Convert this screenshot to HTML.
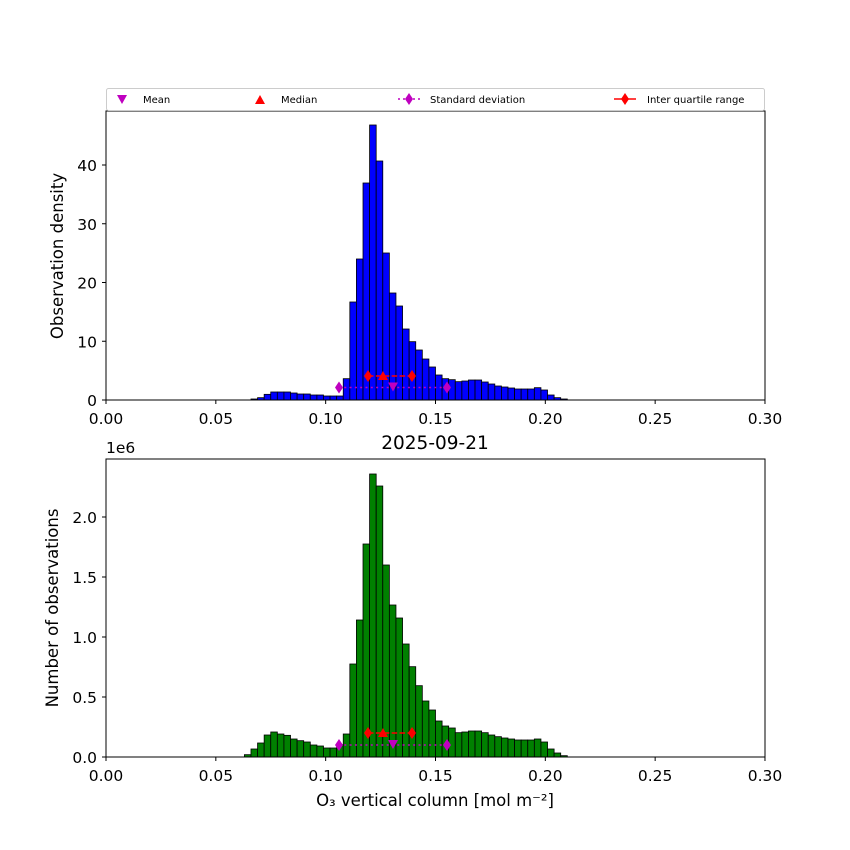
<!DOCTYPE html>
<html><head><meta charset="utf-8"><style>
html,body{margin:0;padding:0;background:#fff}
svg{display:block;font-family:"DejaVu Sans","Liberation Sans",sans-serif}
</style></head><body>
<svg id="s" width="850" height="850" viewBox="0 0 850 850" xmlns="http://www.w3.org/2000/svg">
<rect width="850" height="850" fill="#fff"/>
<g id="top"></g><g id="bot"></g>
<rect x="106" y="111" width="659" height="289" fill="none" stroke="#000" stroke-width="1"/>
<rect x="106" y="459" width="659" height="298" fill="none" stroke="#000" stroke-width="1"/>
<g id="ticks" font-size="15.5" fill="#000"></g>
<rect x="106.5" y="88.5" width="658" height="22" fill="#fff" stroke="#ccc" stroke-width="1" rx="2"/>
<g font-size="10" fill="#000">
<polygon points="117,95 127,95 122,104" fill="#bf00bf"/>
<text x="143" y="103">Mean</text>
<polygon points="255,104 265,104 260,95" fill="#f00"/>
<text x="281" y="103">Median</text>
<line x1="398" y1="99" x2="420" y2="99" stroke="#bf00bf" stroke-width="1.5" stroke-dasharray="2,3"/>
<polygon points="409,93 413,99 409,105 405,99" fill="#bf00bf"/>
<text x="430" y="103">Standard deviation</text>
<line x1="614" y1="99" x2="636" y2="99" stroke="#f00" stroke-width="1.5"/>
<polygon points="625,93 629,99 625,105 621,99" fill="#f00"/>
<text x="647" y="103">Inter quartile range</text>
</g>
<text x="435" y="449" font-size="18.5" text-anchor="middle">2025-09-21</text>
<text x="106" y="453" font-size="15.5">1e6</text>
<text transform="translate(63,256) rotate(-90)" font-size="16.5" text-anchor="middle">Observation density</text>
<text transform="translate(58,608) rotate(-90)" font-size="16.5" text-anchor="middle">Number of observations</text>
<text x="435" y="806" font-size="16.5" text-anchor="middle">O₃ vertical column [mol m⁻²]</text>
</svg>
<script>
const NS="http://www.w3.org/2000/svg";
function el(p,t,a){const e=document.createElementNS(NS,t);for(const k in a)e.setAttribute(k,a[k]);p.appendChild(e);return e;}
const topZ={22:864,23:860,24:850,25:843,26:843,27:843,28:846,29:849,30:849,31:852,32:852,33:855,34:855,35:855,36:803,37:573,38:444,39:216,40:42,41:150,42:426,43:546,44:585,45:654,46:692,47:717,48:744,49:768,50:792,51:803,52:806,53:812,54:810,55:807,56:807,57:813,58:819,59:825,60:828,61:831,62:834,63:834,64:834,65:830,66:837,67:852,68:860,69:864};
const botZ={21:897,22:880,23:862,24:838,25:829,26:835,27:839,28:850,29:855,30:859,31:868,32:871,33:877,34:877,35:867,36:835,37:625,38:493,39:265,40:55,41:91,42:328,43:448,44:487,45:565,46:633,47:690,48:736,49:763,50:796,51:811,52:817,53:831,54:829,55:826,56:826,57:831,58:838,59:843,60:847,61:850,62:853,63:853,64:853,65:850,66:859,67:880,68:892,69:900};
function bars(g,data,base,zb,col){for(const k in data){const h=(zb-data[k])/3;if(h<=0)continue;const x=106+6.59*k;
el(g,'rect',{x:x,y:base-h,width:6.59,height:h,fill:col,stroke:'#000','stroke-width':0.8});}}
const T=document.getElementById('top'),B=document.getElementById('bot');
bars(T,topZ,400,867,'#0000ff');bars(B,botZ,757,904,'#008000');
function markers(g,yi,ys){
el(g,'line',{x1:339,y1:ys,x2:447,y2:ys,stroke:'#bf00bf','stroke-width':1.5,'stroke-dasharray':'2,3.3'});
el(g,'line',{x1:368,y1:yi,x2:412,y2:yi,stroke:'#f00','stroke-width':1.5,'stroke-dasharray':'5.5,2.4'});
[339,447].forEach(x=>el(g,'polygon',{points:`${x},${ys-6} ${x+4},${ys} ${x},${ys+6} ${x-4},${ys}`,fill:'#bf00bf'}));
[368,412].forEach(x=>el(g,'polygon',{points:`${x},${yi-6} ${x+4},${yi} ${x},${yi+6} ${x-4},${yi}`,fill:'#f00'}));
el(g,'polygon',{points:`378,${yi+4} 388,${yi+4} 383,${yi-5}`,fill:'#f00'});
el(g,'polygon',{points:`388,${ys-5} 398,${ys-5} 393,${ys+4}`,fill:'#bf00bf'});}
markers(T,376,387.5);markers(B,733,745);
const tk=document.getElementById('ticks');
['0.00','0.05','0.10','0.15','0.20','0.25','0.30'].forEach((l,i)=>{const x=106+109.83*i;
[[400,424],[757,781]].forEach(([y,ty])=>{el(tk,'line',{x1:x,y1:y,x2:x,y2:y+4,stroke:'#000'});const t=el(tk,'text',{x:x,y:ty,'text-anchor':'middle'});t.textContent=l;});});
[0,10,20,30,40].forEach(v=>{const y=400-5.875*v;el(tk,'line',{x1:102,y1:y,x2:106,y2:y,stroke:'#000'});const t=el(tk,'text',{x:97,y:y+6,'text-anchor':'end'});t.textContent=v;});
['0.0','0.5','1.0','1.5','2.0'].forEach((l,i)=>{const y=757-60*i;el(tk,'line',{x1:102,y1:y,x2:106,y2:y,stroke:'#000'});const t=el(tk,'text',{x:97,y:y+6,'text-anchor':'end'});t.textContent=l;});
</script>
</body></html>
